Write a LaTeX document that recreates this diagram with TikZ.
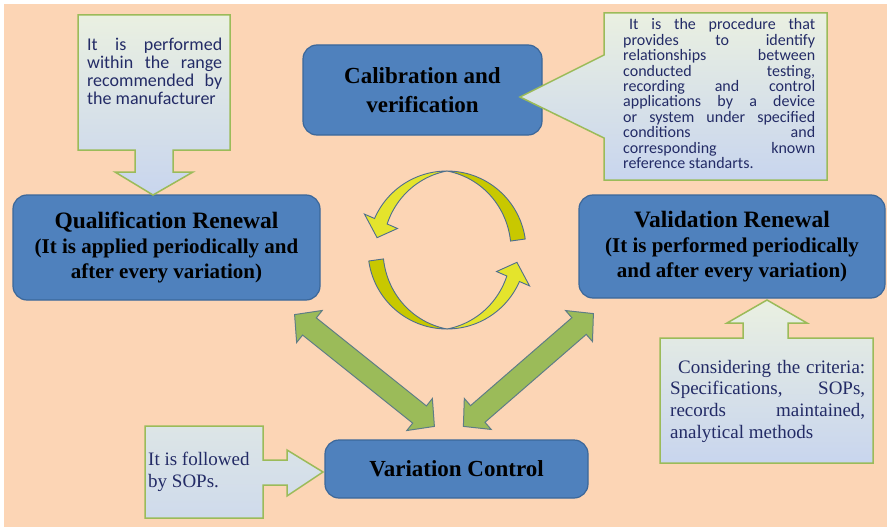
\documentclass[tikz,border=0pt]{standalone}
\usepackage{fontspec}
\setmainfont{Liberation Serif}
\newfontfamily\calib{Carlito}
\usetikzlibrary{calc}
\definecolor{peach}{HTML}{FCD5B5}
\definecolor{boxblue}{HTML}{4F81BD}
\definecolor{boxedge}{HTML}{3B679A}
\definecolor{calloutgreen}{HTML}{9BBB59}
\definecolor{txtnavy}{HTML}{232B66}
\definecolor{dyellow}{HTML}{C8C800}
\definecolor{lyellow}{HTML}{E4E42C}
\definecolor{ringedge}{HTML}{4D6E8E}
\definecolor{arrowgreen}{HTML}{9BBB59}
\definecolor{arrowedge}{HTML}{5E7D86}
\definecolor{cltop}{HTML}{EAF0E1}
\definecolor{clbot}{HTML}{C8D5EE}

\newcommand\sline[2]{\makebox[#1][s]{#2}}

\newcommand\halfring{%
  \filldraw[ring, fill=dyellow]
    plot[domain=8:90,samples=40] ({447+79*cos(\x)},{250-79*sin(\x)})
    -- plot[domain=90:8,samples=40] ({447+(79-15*cos(\x))*cos(\x)},{250-(79-15*cos(\x))*sin(\x)})
    -- cycle;
  \filldraw[ring, fill=lyellow]
    plot[domain=90:156.5,samples=40] ({447+79*cos(\x)},{250-79*sin(\x)})
    -- ({447+90*cos(156.5)},{250-90*sin(156.5)})
    -- ({447+71*cos(170)},{250-71*sin(170)})
    -- ({447+54*cos(156.5)},{250-54*sin(156.5)})
    -- plot[domain=156.5:90,samples=40] ({447+(79-15*abs(cos(\x)))*cos(\x)},{250-(79-15*abs(cos(\x)))*sin(\x)})
    -- cycle;}

\newcommand\dblarrow[2]{%
  \coordinate (#1h) at ($(#1)!19pt!(#2)$);
  \coordinate (#2h) at ($(#2)!19pt!(#1)$);
  \draw[fatarrow] (#1) -- ($(#1h)!20.5pt!90:(#2)$) -- ($(#1h)!11pt!90:(#2)$)
    -- ($(#2h)!11pt!-90:(#1)$) -- ($(#2h)!20.5pt!-90:(#1)$) -- (#2)
    -- ($(#2h)!20.5pt!90:(#1)$) -- ($(#2h)!11pt!90:(#1)$)
    -- ($(#1h)!11pt!-90:(#2)$) -- ($(#1h)!20.5pt!-90:(#2)$) -- cycle;}

\begin{document}
\begin{tikzpicture}[x=1pt,y=-1pt,
  mainbox/.style={draw=boxedge, line width=1.2pt, fill=boxblue, rounded corners=14pt,
    align=center, inner sep=0pt, text=black},
  callout/.style={draw=calloutgreen, line width=1.5pt, line join=miter, top color=cltop, bottom color=clbot},
  ctext/.style={inner sep=0pt, anchor=base west, text=txtnavy},
  fatarrow/.style={draw=arrowedge, line width=1pt, fill=arrowgreen, line join=miter},
  ring/.style={draw=ringedge, line width=0.9pt, line join=miter}]

\useasboundingbox (0,0) rectangle (887,527);
\fill[peach] (0,0) rectangle (887,527);
\fill[white] (0,0) rectangle (887,4);
\fill[white] (0,0) rectangle (4,527);

% cycle arrows
\halfring
\begin{scope}[rotate around={180:(447,250)}]
  \halfring
\end{scope}

% main boxes
\node[mainbox, minimum width=239pt, minimum height=90pt,
  font=\bfseries\fontsize{23}{29}\selectfont] (calib) at (422.5,90) {Calibration and\\verification};
\node[mainbox, minimum width=307pt, minimum height=105pt,
  font=\bfseries\fontsize{21}{25}\selectfont] (qual) at (166.5,247.5)
  {{\fontsize{23.5}{28}\selectfont Qualification Renewal}\\(It is applied periodically and\\after every variation)};
\node[mainbox, minimum width=306pt, minimum height=103pt,
  font=\bfseries\fontsize{21}{25}\selectfont] (valid) at (732,246.5)
  {{\fontsize{23.5}{28}\selectfont Validation Renewal}\\(It is performed periodically\\and after every variation)};
\node[mainbox, minimum width=263pt, minimum height=58pt,
  font=\bfseries\fontsize{23}{28}\selectfont] (var) at (456.5,469) {Variation Control};

% double arrows
\coordinate (qa) at ($(qual.south east)+(-26,14)$);
\coordinate (va) at ($(var.north west)+(110,-13)$);
\coordinate (vb) at ($(var.north west)+(139,-13)$);
\coordinate (vr) at ($(valid.south west)+(15,15)$);
\dblarrow{qa}{va}
\dblarrow{vb}{vr}

% callouts
\draw[callout] (78,15) -- (230,15) -- (230,150) -- (173,150) -- (173,172) -- (193,172)
  -- (153,195) -- (115,172) -- (135,172) -- (135,150) -- (78,150) -- cycle;
\draw[callout] (604,13) -- (827,13) -- (827,180) -- (604,180) -- (604,138) -- (520,97)
  -- (604,55) -- cycle;
\draw[callout] (660,338) -- (743,338) -- (743,323) -- (727,323) -- (767,300) -- (807,323)
  -- (788,323) -- (788,338) -- (873,338) -- (873,463) -- (660,463) -- cycle;
\draw[callout, top color=cltop!60!clbot, bottom color=clbot!80!cltop] (145,426) -- (263,426) -- (263,460) -- (287,460) -- (287,450) -- (323,472)
  -- (287,496) -- (287,485) -- (263,485) -- (263,518) -- (145,518) -- cycle;

% callout texts
\node[ctext, font=\calib\fontsize{18}{18}\selectfont] (tltext) at (87,51)
  {\parbox[t]{135pt}{\lineskiplimit=-\maxdimen
   \sline{135pt}{It is performed}\\
   \sline{135pt}{within the range}\\
   \sline{135pt}{recommended by}\\
   the manufacturer}};
\node[ctext, font=\calib\fontsize{16}{15.4}\selectfont] (trtext) at (623,30)
  {\parbox[t]{192pt}{\lineskiplimit=-\maxdimen
   \sline{192pt}{\hspace*{6pt}It is the procedure that}\\
   \sline{192pt}{provides to identify}\\
   \sline{192pt}{relationships between}\\
   \sline{192pt}{conducted testing,}\\
   \sline{192pt}{recording and control}\\
   \sline{192pt}{applications by a device}\\
   \sline{192pt}{or system under specified}\\
   \sline{192pt}{conditions and}\\
   \sline{192pt}{corresponding known}\\
   reference standarts.}};
\node[ctext, font=\fontsize{19}{21.7}\selectfont] (brtext) at (670,373)
  {\parbox[t]{195pt}{\lineskiplimit=-\maxdimen
   \sline{195pt}{\hspace*{8pt}Considering the criteria:}\\
   \sline{195pt}{Specifications, SOPs,}\\
   \sline{195pt}{records maintained,}\\
   analytical methods}};
\node[ctext, font=\fontsize{19}{22}\selectfont] (bltext) at (148,465)
  {\parbox[t]{112pt}{\lineskiplimit=-\maxdimen
   It is followed\\
   by SOPs.}};
\end{tikzpicture}
\end{document}
